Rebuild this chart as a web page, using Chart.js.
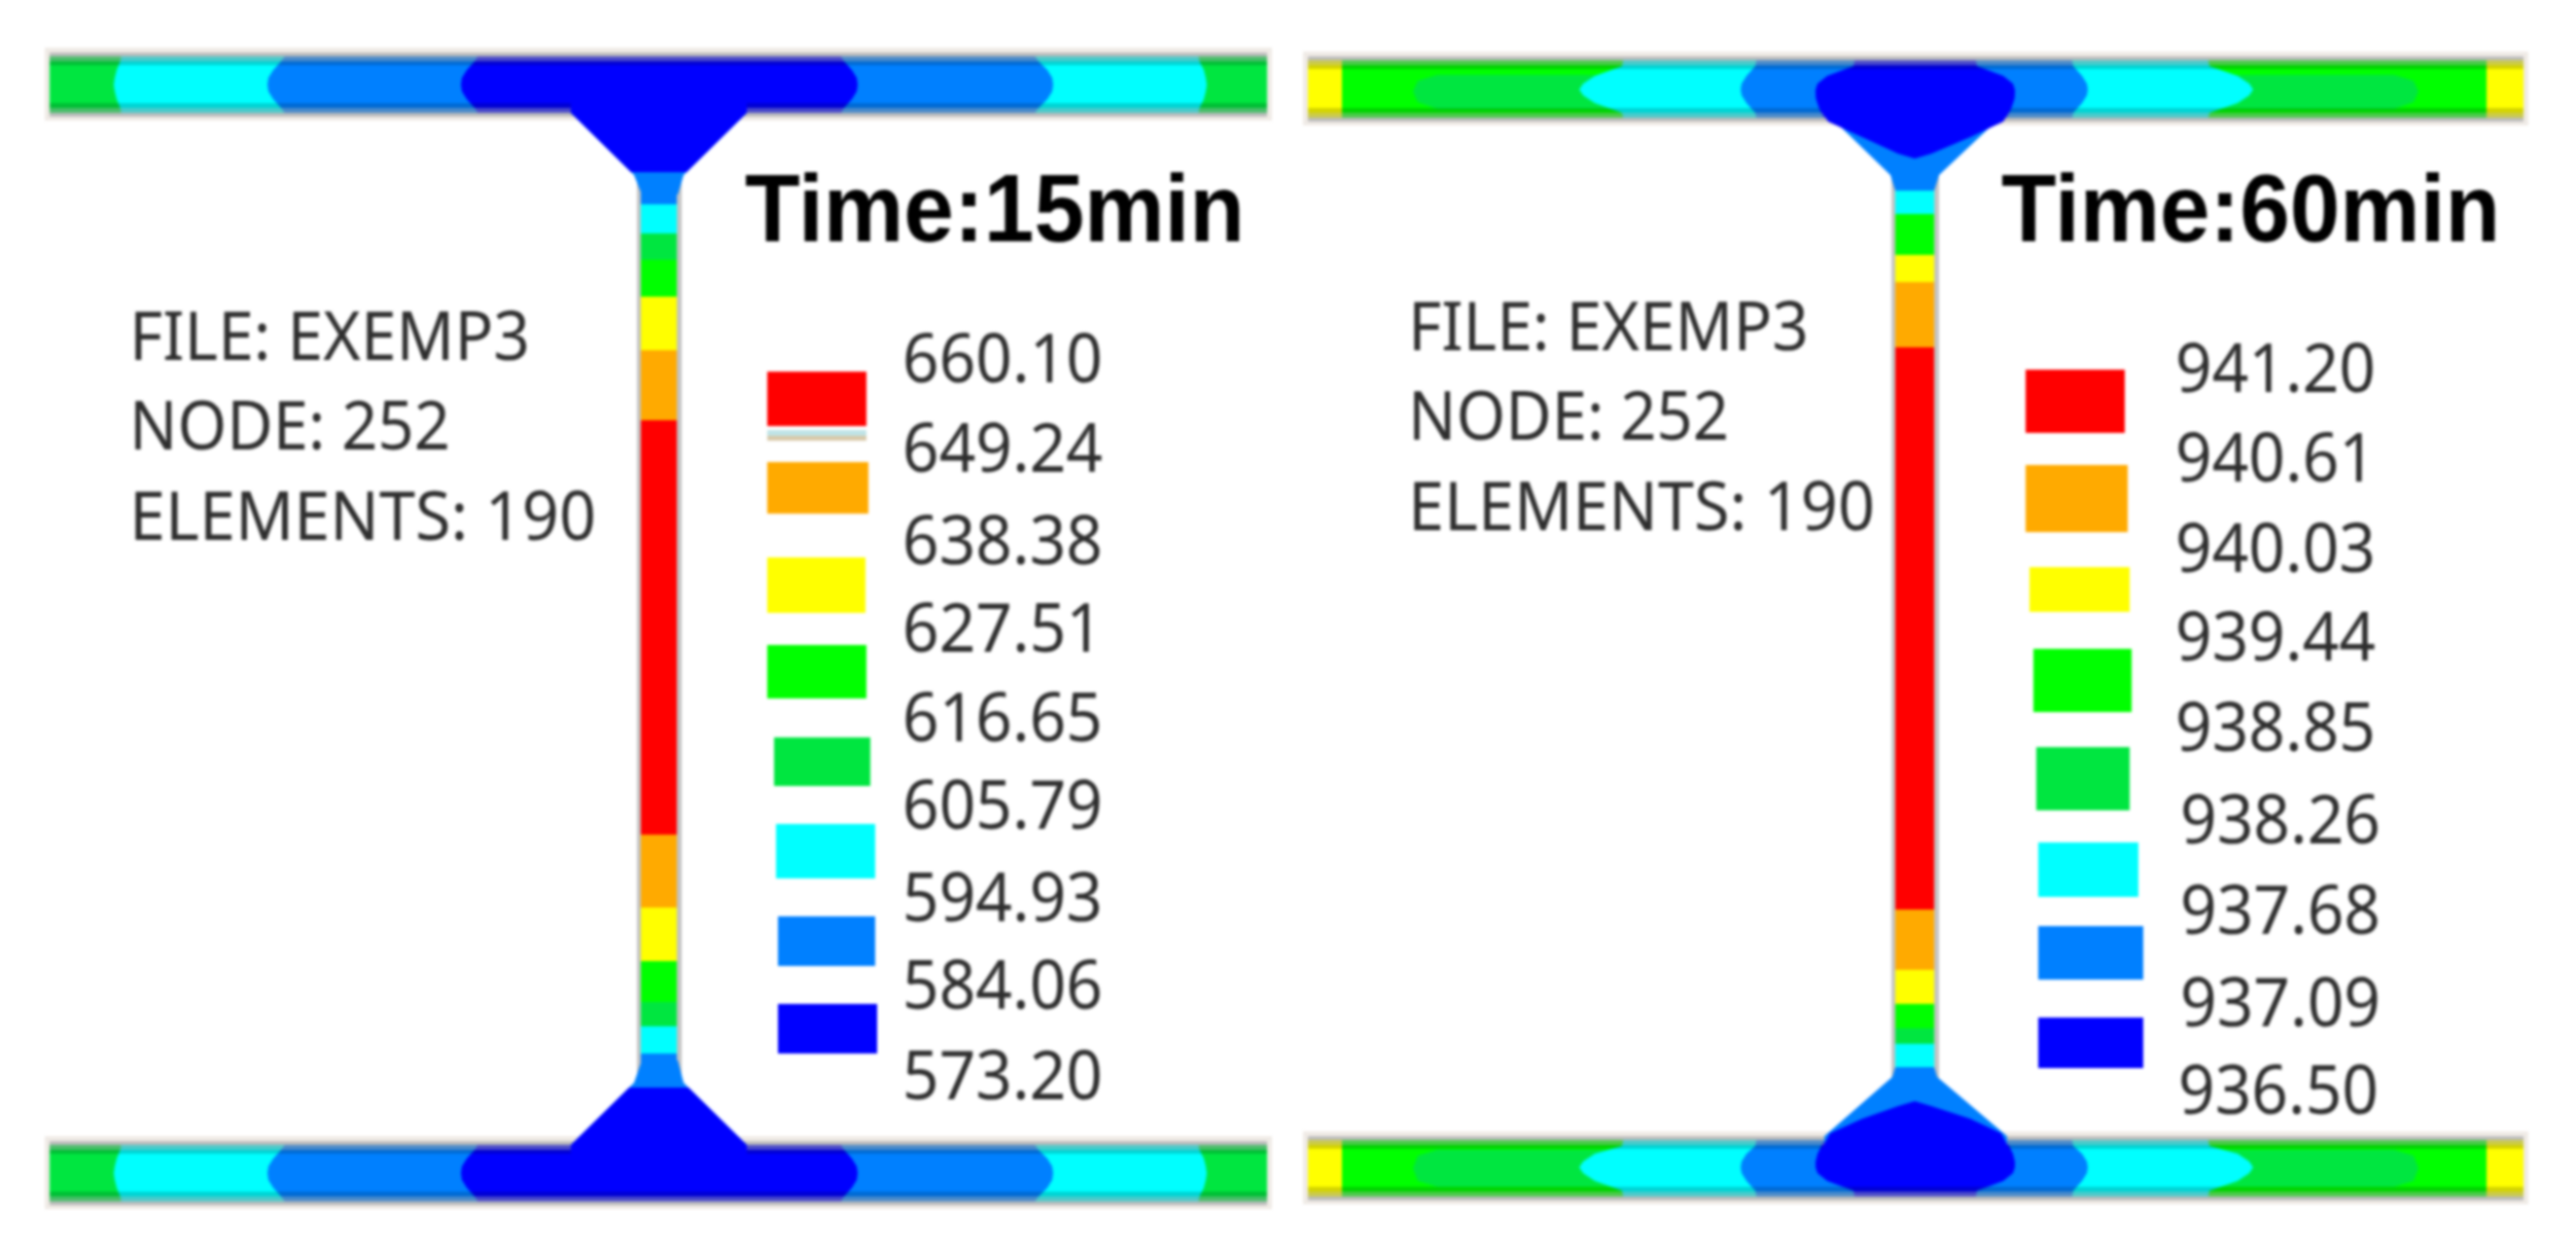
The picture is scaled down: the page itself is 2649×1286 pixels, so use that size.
<!DOCTYPE html>
<html>
<head>
<meta charset="utf-8">
<title>Temperature field 15 and 60 min</title>
<script src="https://cdn.jsdelivr.net/npm/chart.js@4/dist/chart.umd.js"></script>
<style>
  html, body { margin: 0; padding: 0; background: #fff; overflow: hidden; }
  canvas { display: block; filter: blur(1.5px); }
</style>
</head>
<body>
<canvas id="grafico" width="2649" height="1286"></canvas>
<script>
// colores de la escala, de mayor a menor
const red = "#ff0000", orange = "#ffaa00", yellow = "#ffff00", green = "#00ff00"
const green2 = "#00e640", cyan = "#00ffff", blue = "#0080ff", navy = "#0000ff"
const legendColors = [red, orange, yellow, green, green2, cyan, blue, navy]

// textos
const title15 = "Time:15min"
const title60 = "Time:60min"
const infoLines = ["FILE: EXEMP3", "NODE: 252", "ELEMENTS: 190"]
const ticks15 = ["660.10", "649.24", "638.38", "627.51", "616.65", "605.79", "594.93", "584.06", "573.20"]
const ticks60 = ["941.20", "940.61", "940.03", "939.44", "938.85", "938.26", "937.68", "937.09", "936.50"]

// --- figura 15 min: contornos del ala (x izquierda / x derecha por fila)
const rows15Top = [54, 62, 72, 80, 87, 94, 102, 112, 120]
const rows15Bottom = [1173, 1181, 1191, 1199, 1206, 1213, 1221, 1231, 1239]
const navy15L = [493, 489, 480, 475, 474, 475, 480, 489, 493]
const navy15R = [863, 867, 876, 881, 882, 881, 876, 867, 863]
const blue15L = [295, 290, 281, 276, 275, 276, 281, 290, 295]
const blue15R = [1062, 1067, 1077, 1082, 1083, 1082, 1077, 1067, 1062]
const cyan15L = [125, 124, 120, 118, 117, 118, 120, 124, 125]
const cyan15R = [1232, 1233, 1238, 1240, 1241, 1240, 1238, 1233, 1232]
// alma: cortes en y y color de cada tramo
const web15Y = [170, 210, 240, 267, 305, 360, 432, 858, 933, 988, 1030, 1055, 1083, 1125]
const web15Colors = [blue, cyan, green2, green, yellow, orange, red, orange, yellow, green, green2, cyan, blue]
// acartelamientos
const fillet15Top = [[587, 116], [768, 116], [703, 180], [697, 200], [660, 200], [652, 180]]
const navyFillet15Top = [[587, 100], [768, 100], [768, 116], [706, 177], [649, 177], [587, 116]]
const fillet15Bottom = [[660, 1090], [697, 1090], [703, 1113], [768, 1177], [587, 1177], [652, 1113]]
const navyFillet15Bottom = [[647, 1118], [708, 1118], [768, 1177], [768, 1195], [587, 1195], [587, 1177]]

// --- figura 60 min
const rows60Top = [58, 68, 78, 86, 92, 98, 106, 116, 125]
const rows60Bottom = [1168, 1178, 1186, 1194, 1200, 1206, 1214, 1224, 1234]
const navy60TopL = [1908, 1906, 1879, 1869, 1867, 1867, 1869, 1873, 1878]
const navy60TopR = [2031, 2033, 2060, 2070, 2072, 2072, 2070, 2066, 2061]
const navy60BottomL = [1878, 1873, 1869, 1867, 1867, 1869, 1879, 1906, 1908]
const navy60BottomR = [2061, 2066, 2070, 2072, 2072, 2070, 2060, 2033, 2031]
const blue60L = [1807, 1805, 1796, 1791, 1790, 1791, 1796, 1805, 1807]
const blue60R = [2130, 2132, 2141, 2146, 2147, 2146, 2141, 2132, 2130]
const cyan60L = [1670, 1668, 1640, 1628, 1624, 1628, 1640, 1668, 1670]
const cyan60R = [2270, 2272, 2301, 2313, 2317, 2313, 2301, 2272, 2270]
const lens60TopRows = [77, 83, 94, 105, 112]
const lens60BottomRows = [1182, 1188, 1201, 1214, 1220]
const lens60L = [1478, 1458, 1453, 1458, 1478]
const lens60R = [2462, 2482, 2487, 2482, 2462]
const web60Y = [170, 192, 220, 262, 290, 357, 935, 997, 1032, 1057, 1073, 1097, 1125]
const web60Colors = [blue, cyan, green, yellow, orange, red, orange, yellow, green, green2, cyan, blue]
const fillet60Top = [[1878, 116], [2062, 116], [1994, 180], [1989, 196], [1949, 196], [1944, 180]]
const drop60Top = [[1867, 100], [2072, 100], [2068, 112], [2060, 125], [2026, 141], [1986, 158], [1969, 163], [1952, 158], [1915, 141], [1880, 125], [1871, 112]]
const fillet60Bottom = [[1949, 1097], [1989, 1097], [1992, 1107], [2064, 1168], [2064, 1185], [1876, 1185], [1876, 1168], [1946, 1107]]
const drop60Bottom = [[1969, 1132], [1986, 1137], [2026, 1150], [2058, 1165], [2068, 1185], [2072, 1198], [1867, 1198], [1871, 1185], [1882, 1165], [1915, 1150], [1952, 1137]]

// --- leyendas: [izquierda, derecha, arriba, abajo] de cada cuadro
const legendBoxes15 = [[789, 891, 382, 438], [789, 893, 475, 528], [789, 890, 573, 630], [789, 891, 663, 718],
  [796, 895, 758, 808], [798, 900, 847, 903], [800, 900, 942, 993], [800, 902, 1032, 1083]]
const legendBoxes60 = [[2083, 2185, 380, 445], [2083, 2188, 478, 547], [2087, 2190, 583, 629], [2091, 2192, 667, 732],
  [2094, 2190, 768, 833], [2096, 2199, 866, 922], [2096, 2204, 952, 1007], [2096, 2204, 1046, 1098]]
const tickBase15 = [393, 485, 580, 670, 762, 852, 947, 1037, 1130]
const tickBase60 = [403, 495, 588, 679, 772, 867, 960, 1055, 1145]
const tickX60 = [2237, 2237, 2237, 2237, 2237, 2242, 2242, 2242, 2240]

const polys = []
const add = (pts, color) => polys.push({ pts, color })
const box = (x0, x1, y0, y1) => [[x0, y0], [x1, y0], [x1, y1], [x0, y1]]
// contorno cerrado a partir de las filas
const contour = (rows, left, right) => [
  ...left.map((x, i) => [x, rows[i]]),
  ...right.map((x, i) => [x, rows[i]]).reverse()
]

// halo, gris y oscurecido en los bordes del ala
function flangeBands(x0, x1, top, bottom) {
  add(box(x0, x1, top, top + 4), "rgb(188,188,188)")
  add(box(x0, x1, top + 4, top + 9), "rgba(150,150,150,0.5)")
  add(box(x0, x1, top + 9, top + 13), "rgba(0,0,0,0.17)")
  add(box(x0, x1, bottom - 14, bottom - 9), "rgba(0,0,0,0.17)")
  add(box(x0, x1, bottom - 9, bottom - 4), "rgba(150,150,150,0.5)")
  add(box(x0, x1, bottom - 4, bottom), "rgb(188,188,188)")
}

function flange15(rows) {
  const top = rows[0], bottom = rows[rows.length - 1]
  add(box(46, 1308, top - 5, bottom + 4), "#f0ebe6")
  add(box(51, 1303, top, bottom), green2)
  add(contour(rows, cyan15L, cyan15R), cyan)
  add(contour(rows, blue15L, blue15R), blue)
  add(contour(rows, navy15L, navy15R), navy)
  flangeBands(51, 1303, top, bottom)
}

function flange60(rows, lensRows, navyL, navyR) {
  const top = rows[0], bottom = rows[rows.length - 1]
  add(box(1340, 2600, top - 5, bottom + 4), "#f0ebe6")
  add(box(1345, 2595, top, bottom), yellow)
  add(box(1380, 2557, top, bottom), green)
  add(contour(lensRows, lens60L, lens60R), green2)
  add(contour(rows, cyan60L, cyan60R), cyan)
  add(contour(rows, blue60L, blue60R), blue)
  add(contour(rows, navyL, navyR), navy)
  flangeBands(1345, 2595, top, bottom)
}

function web(x0, x1, cuts, colors) {
  add(box(x0 - 4, x1 + 5, cuts[0], cuts[cuts.length - 1]), "#c4c4c4")
  colors.forEach((c, i) => add(box(x0, x1, cuts[i], cuts[i + 1]), c))
}

// figura izquierda
web(659, 696, web15Y, web15Colors)
flange15(rows15Top)
flange15(rows15Bottom)
add(fillet15Top, blue)
add(navyFillet15Top, navy)
add(fillet15Bottom, blue)
add(navyFillet15Bottom, navy)
// figura derecha
web(1949, 1989, web60Y, web60Colors)
flange60(rows60Top, lens60TopRows, navy60TopL, navy60TopR)
flange60(rows60Bottom, lens60BottomRows, navy60BottomL, navy60BottomR)
add(fillet60Top, blue)
add(drop60Top, navy)
add(fillet60Bottom, blue)
add(drop60Bottom, navy)
// leyendas
add(box(789, 891, 442, 448), "#bfe3e6")
add(box(789, 891, 448, 453), "#d8c8a8")
legendBoxes15.forEach((b, i) => add(box(b[0], b[1], b[2], b[3]), legendColors[i]))
legendBoxes60.forEach((b, i) => add(box(b[0], b[1], b[2], b[3]), legendColors[i]))

// textos en coordenadas de la figura
const textosPlugin = {
  id: "textos",
  afterDatasetsDraw(chart) {
    const { ctx, scales } = chart
    const put = (text, x, y, maxWidth) =>
      ctx.fillText(text, scales.x.getPixelForValue(x), scales.y.getPixelForValue(y), maxWidth)
    ctx.save()
    ctx.textBaseline = "alphabetic"
    ctx.textAlign = "left"
    ctx.fillStyle = "#000"
    ctx.font = "bold 99px 'Liberation Sans'"
    put(title15, 766, 248, 514)
    put(title60, 2058, 248, 513)
    ctx.fillStyle = "#2e2e2e"
    ctx.font = "70px 'Noto Sans'"
    ticks15.forEach((t, i) => put(t, 928, tickBase15[i], 206))
    ticks60.forEach((t, i) => put(t, tickX60[i], tickBase60[i], 206))
    const infoWidths = [412, 330, 480]
    const infoBase15 = [370, 462, 555]
    const infoBase60 = [360, 452, 545]
    infoLines.forEach((t, i) => {
      put(t, 133, infoBase15[i], infoWidths[i])
      put(t, 1448, infoBase60[i], infoWidths[i])
    })
    ctx.restore()
  }
}

// Chart.js pinta el primer dataset encima: se invierte el orden
const datasets = polys.slice().reverse().map(p => ({
  data: p.pts.map(q => ({ x: q[0], y: q[1] })),
  fill: "shape",
  backgroundColor: p.color,
  borderColor: "transparent",
  borderWidth: 0,
  pointRadius: 0,
  tension: 0
}))

new Chart(document.getElementById("grafico").getContext("2d"), {
  type: "line",
  data: { datasets },
  options: {
    responsive: false,
    animation: false,
    events: [],
    layout: { padding: 0 },
    plugins: { legend: { display: false }, tooltip: { enabled: false } },
    scales: {
      x: { type: "linear", min: 0, max: 2649, display: false },
      y: { type: "linear", min: 0, max: 1286, reverse: true, display: false }
    }
  },
  plugins: [textosPlugin]
})
</script>
</body>
</html>
